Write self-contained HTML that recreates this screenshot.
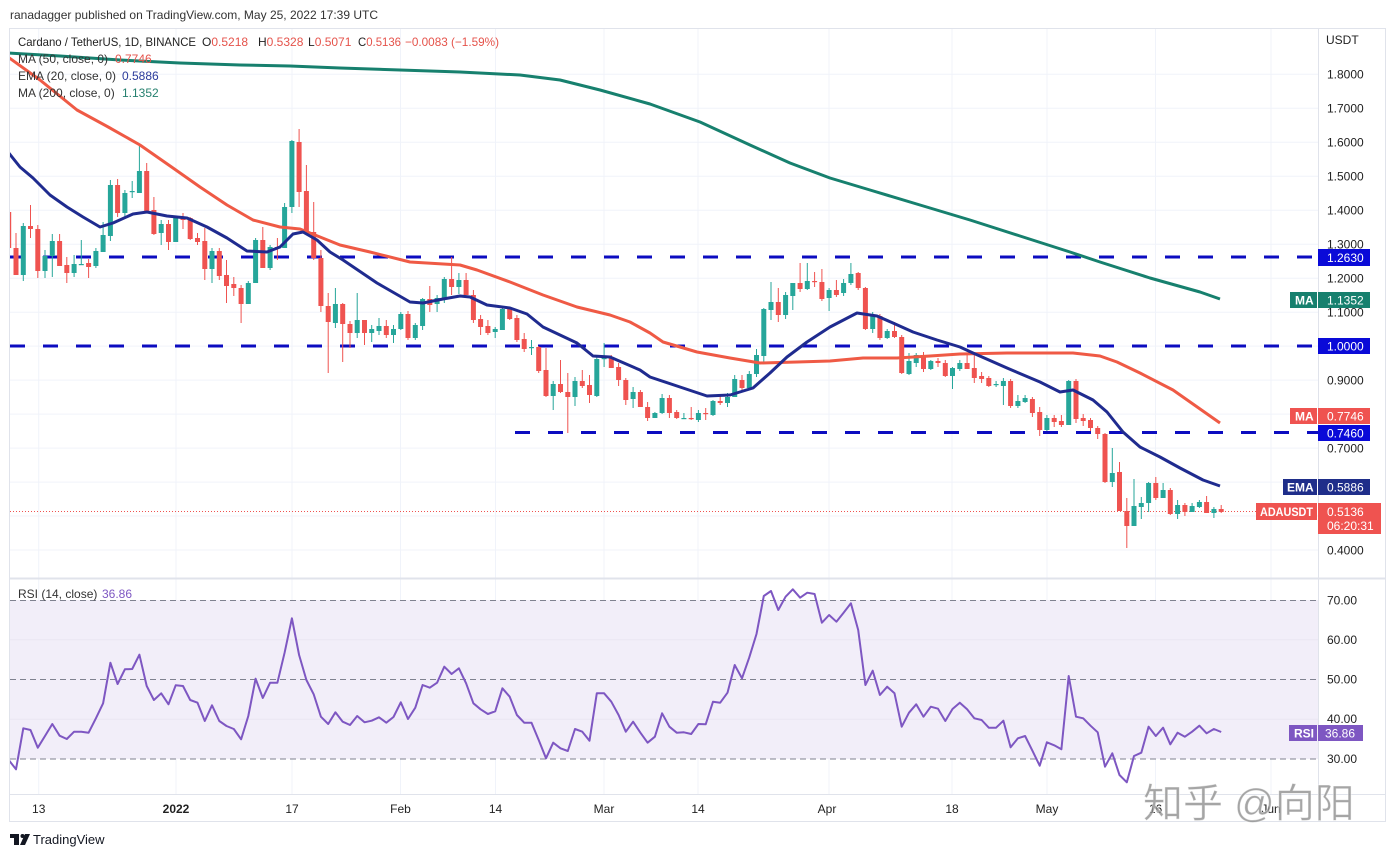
<!DOCTYPE html>
<html>
<head>
<meta charset="utf-8">
<style>
  html,body{margin:0;padding:0;background:#fff;}
  body{width:1396px;height:857px;overflow:hidden;font-family:"Liberation Sans",sans-serif;}
  svg text{font-family:"Liberation Sans",sans-serif;}
</style>
</head>
<body>
<svg id="chart" width="1396" height="857" viewBox="0 0 1396 857" xmlns="http://www.w3.org/2000/svg">
  <defs>
    <clipPath id="pc"><rect x="10" y="29" width="1308" height="549"/></clipPath>
    <clipPath id="rc"><rect x="10" y="579" width="1308" height="215"/></clipPath>
  </defs>
  <rect x="0" y="0" width="1396" height="857" fill="#fff"/>

  <!-- header -->
  <text x="10" y="19" font-size="12" fill="#333">ranadagger published on TradingView.com, May 25, 2022 17:39 UTC</text>

  <!-- frame -->
  <rect x="9.5" y="28.5" width="1376" height="793" fill="none" stroke="#e0e3eb" stroke-width="1"/>

  <!-- grid -->
  <g stroke="#f0f3fa" stroke-width="1">
    <line x1="10" x2="1318" y1="74.3" y2="74.3"/>
    <line x1="10" x2="1318" y1="108.3" y2="108.3"/>
    <line x1="10" x2="1318" y1="142.3" y2="142.3"/>
    <line x1="10" x2="1318" y1="176.2" y2="176.2"/>
    <line x1="10" x2="1318" y1="210.2" y2="210.2"/>
    <line x1="10" x2="1318" y1="244.2" y2="244.2"/>
    <line x1="10" x2="1318" y1="278.2" y2="278.2"/>
    <line x1="10" x2="1318" y1="312.2" y2="312.2"/>
    <line x1="10" x2="1318" y1="346.1" y2="346.1"/>
    <line x1="10" x2="1318" y1="380.1" y2="380.1"/>
    <line x1="10" x2="1318" y1="414.1" y2="414.1"/>
    <line x1="10" x2="1318" y1="448.1" y2="448.1"/>
    <line x1="10" x2="1318" y1="482.1" y2="482.1"/>
    <line x1="10" x2="1318" y1="516" y2="516"/>
    <line x1="10" x2="1318" y1="550" y2="550"/>
    <line x1="38.7" x2="38.7" y1="29" y2="794"/>
    <line x1="176" x2="176" y1="29" y2="794"/>
    <line x1="292" x2="292" y1="29" y2="794"/>
    <line x1="400.5" x2="400.5" y1="29" y2="794"/>
    <line x1="495.5" x2="495.5" y1="29" y2="794"/>
    <line x1="604" x2="604" y1="29" y2="794"/>
    <line x1="698" x2="698" y1="29" y2="794"/>
    <line x1="829" x2="829" y1="29" y2="794"/>
    <line x1="952" x2="952" y1="29" y2="794"/>
    <line x1="1047" x2="1047" y1="29" y2="794"/>
    <line x1="1155.5" x2="1155.5" y1="29" y2="794"/>
    <line x1="1271" x2="1271" y1="29" y2="794"/>
  </g>

  <!-- RSI pane background & levels -->
  <rect x="10" y="600" width="1308" height="159" fill="#f2eef9"/>
  <g stroke="#eae6f2" stroke-width="1">
    <line x1="10" x2="1318" y1="639.75" y2="639.75"/>
    <line x1="10" x2="1318" y1="719.25" y2="719.25"/>
  </g>
  <g stroke="#808290" stroke-width="1" stroke-dasharray="6 4">
    <line x1="10" x2="1318" y1="600.5" y2="600.5"/>
    <line x1="10" x2="1318" y1="679.5" y2="679.5"/>
    <line x1="10" x2="1318" y1="759" y2="759"/>
  </g>

  <!-- separators -->
  <line x1="10" x2="1386" y1="578.5" y2="578.5" stroke="#e0e3eb" stroke-width="2"/>
  <line x1="10" x2="1386" y1="794.5" y2="794.5" stroke="#e0e3eb" stroke-width="1"/>
  <line x1="1318.5" x2="1318.5" y1="29" y2="821" stroke="#e0e3eb" stroke-width="1"/>

  <!-- price pane content -->
  <g clip-path="url(#pc)">
    <g stroke="#0c0cc0" stroke-width="3" stroke-dasharray="15 18" fill="none">
      <line x1="10" x2="1318" y1="257" y2="257"/>
      <line x1="10" x2="1318" y1="346" y2="346"/>
      <line x1="515" x2="1318" y1="432.5" y2="432.5"/>
    </g>
    <line x1="10" x2="1318" y1="511.5" y2="511.5" stroke="#ef5350" stroke-width="1" stroke-dasharray="1 2"/>

    <g id="candles"></g>

    <polyline fill="none" stroke="#17806e" stroke-width="3" stroke-linejoin="round" points="8,53 60,56 120,60 180,63 240,65 290,66 340,68 400,70 460,72 520,75 560,80 600,90 650,104 700,122 750,145 790,163 830,178 870,190 920,205 970,220 1020,236 1070,252 1100,262 1150,278 1200,292 1220,299"/>
    <polyline fill="none" stroke="#ef5a45" stroke-width="3" stroke-linejoin="round" points="8,57 40,80 77,110 110,128 140,145 173,168 200,187 227,205 253,220 280,227 300,229 320,237 340,245 370,252 410,262 460,265 477,270 510,282 543,295 577,307 610,315 630,322 650,333 663,342 697,352 730,358 760,363 797,362 830,361 863,358 897,358 930,356 960,354 1007,353 1073,353 1100,356 1117,362 1140,373 1173,390 1220,423"/>
    <polyline fill="none" stroke="#1f2b8f" stroke-width="3" stroke-linejoin="round" points="8,152 20,167 33,178 50,195 67,207 83,217 100,227 113,223 133,214 147,212 167,216 187,218 207,227 227,238 247,251 267,252 280,247 293,234 303,232 317,240 330,252 343,260 377,283 410,302 423,303 443,299 460,296 470,297 487,305 510,308 527,314 543,327 577,343 593,356 610,357 640,370 650,377 680,387 707,396 730,395 753,388 770,373 787,357 807,342 830,327 857,313 877,316 893,323 913,332 937,340 960,347 973,353 1007,368 1040,382 1060,392 1073,390 1093,400 1107,412 1123,432 1140,447 1160,457 1180,468 1203,480 1220,486"/>
  </g>

  <g clip-path="url(#rc)">
    <polyline id="rsi" fill="none" stroke="#7e57c2" stroke-width="2" stroke-linejoin="round" points=""/>
  </g>

  <!-- legends -->
  <text x="18" y="46" font-size="12" fill="#222" textLength="178" lengthAdjust="spacingAndGlyphs">Cardano / TetherUS, 1D, BINANCE</text>
  <text y="46" font-size="12">
    <tspan x="202" fill="#222">O</tspan><tspan fill="#e5534b">0.5218</tspan>
    <tspan x="258" fill="#222">H</tspan><tspan fill="#e5534b">0.5328</tspan>
    <tspan x="308" fill="#222">L</tspan><tspan fill="#e5534b">0.5071</tspan>
  </text>
  <text x="358" y="46" font-size="12" textLength="43" lengthAdjust="spacingAndGlyphs"><tspan fill="#222">C</tspan><tspan fill="#e5534b">0.5136</tspan></text>
  <text x="405" y="46" font-size="12" fill="#e5534b" textLength="94" lengthAdjust="spacingAndGlyphs">−0.0083 (−1.59%)</text>
  <text y="63" font-size="12"><tspan x="18" fill="#333">MA (50, close, 0)</tspan><tspan x="115" fill="#e5534b">0.7746</tspan></text>
  <text y="80" font-size="12"><tspan x="18" fill="#333">EMA (20, close, 0)</tspan><tspan x="122" fill="#2b3a9b">0.5886</tspan></text>
  <text y="97" font-size="12"><tspan x="18" fill="#333">MA (200, close, 0)</tspan><tspan x="122" fill="#26806f">1.1352</tspan></text>
  <text y="598" font-size="12"><tspan x="18" fill="#333">RSI (14, close)</tspan><tspan x="102" fill="#7e57c2">36.86</tspan></text>

  <!-- price axis labels -->
  <g font-size="12" fill="#222">
    <text x="1326" y="44">USDT</text>
    <text x="1327" y="78.5">1.8000</text>
    <text x="1327" y="112.5">1.7000</text>
    <text x="1327" y="146.5">1.6000</text>
    <text x="1327" y="180.5">1.5000</text>
    <text x="1327" y="214.5">1.4000</text>
    <text x="1327" y="248.5">1.3000</text>
    <text x="1327" y="282.5">1.2000</text>
    <text x="1327" y="316.5">1.1000</text>
    <text x="1327" y="384.5">0.9000</text>
    <text x="1327" y="452.5">0.7000</text>
    <text x="1327" y="554.5">0.4000</text>
    <text x="1327" y="604.5">70.00</text>
    <text x="1327" y="644">60.00</text>
    <text x="1327" y="683.5">50.00</text>
    <text x="1327" y="723">40.00</text>
    <text x="1327" y="763">30.00</text>
  </g>

  <!-- axis boxes -->
  <g font-size="12" fill="#fff">
    <rect x="1318" y="249" width="52" height="17" fill="#0a0ad8"/>
    <text x="1327" y="262">1.2630</text>

    <rect x="1290" y="292" width="27" height="16" fill="#17806e"/>
    <text x="1295" y="304.5" font-weight="bold">MA</text>
    <rect x="1318" y="292" width="52" height="16" fill="#17806e"/>
    <text x="1327" y="304.5">1.1352</text>

    <rect x="1318" y="338" width="52" height="16" fill="#0a0ad8"/>
    <text x="1327" y="350.5">1.0000</text>

    <rect x="1290" y="408" width="27" height="16" fill="#ef5350"/>
    <text x="1295" y="420.5" font-weight="bold">MA</text>
    <rect x="1318" y="408" width="52" height="16" fill="#ef5350"/>
    <text x="1327" y="420.5">0.7746</text>

    <rect x="1318" y="425" width="52" height="16" fill="#0a0ad8"/>
    <text x="1327" y="437.5">0.7460</text>

    <rect x="1283" y="479" width="34" height="16" fill="#1f2e8a"/>
    <text x="1287" y="491.5" font-weight="bold">EMA</text>
    <rect x="1318" y="479" width="52" height="16" fill="#1f2e8a"/>
    <text x="1327" y="491.5">0.5886</text>

    <rect x="1256" y="503" width="61" height="17" fill="#ef5350"/>
    <text x="1260" y="516" font-weight="bold" textLength="53" lengthAdjust="spacingAndGlyphs">ADAUSDT</text>
    <rect x="1318" y="503" width="63" height="31" fill="#ef5350"/>
    <text x="1327" y="516">0.5136</text>
    <text x="1327" y="530">06:20:31</text>

    <rect x="1289" y="725" width="28" height="16" fill="#7e57c2"/>
    <text x="1294" y="737.5" font-weight="bold">RSI</text>
    <rect x="1318" y="725" width="45" height="16" fill="#7e57c2"/>
    <text x="1325" y="737.5">36.86</text>
  </g>

  <!-- time axis labels -->
  <g font-size="12" fill="#222" text-anchor="middle">
    <text x="38.7" y="813">13</text>
    <text x="176" y="813" font-weight="bold">2022</text>
    <text x="292" y="813">17</text>
    <text x="400.5" y="813">Feb</text>
    <text x="495.5" y="813">14</text>
    <text x="604" y="813">Mar</text>
    <text x="698" y="813">14</text>
    <text x="827" y="813">Apr</text>
    <text x="952" y="813">18</text>
    <text x="1047" y="813">May</text>
    <text x="1155.5" y="813">16</text>
    <text x="1271" y="813">Jun</text>
  </g>

  <!-- watermark -->
  <text x="1143" y="817" font-size="40" fill="#8e8e8e" fill-opacity="0.8" stroke="#ffffff" stroke-width="0.8" stroke-opacity="0.6" style="font-family:'Liberation Sans','Noto Sans CJK SC',sans-serif;">知乎 @向阳</text>

  <!-- TradingView logo -->
  <g fill="#131722">
    <rect x="10" y="834" width="9" height="4"/>
    <rect x="14" y="834" width="5" height="11"/>
    <circle cx="22.5" cy="836" r="2"/>
    <polygon points="25,834 30,834 25,845 20,845"/>
  </g>
  <text x="33" y="844" font-size="13" fill="#131722">TradingView</text>
</svg>

<script>
(function(){
  var C=[
  [212,248,205,250,0],
  [248,275,233,275,0],[226,275,223,281,1],[226,229,205,238,0],[229,271,225,278,0],[256,271,250,278,1],
  [241,256,234,277,1],[241,266,234,266,0],[265,273,257,283,0],[264,273,255,277,1],[264,265,240,265,1],
  [263,267,259,278,0],[251,266,248,268,1],[235,252,222,252,1],[185,236,180,241,1],[185,213,179,217,0],
  [193,213,190,217,1],[191,192,181,198,1],[171,193,145,193,1],[171,211,163,212,0],[210,234,197,235,0],
  [224,233,220,245,1],[224,242,220,250,0],[217,242,216,242,1],[217,220,213,229,0],[218,239,217,240,0],
  [238,242,233,245,0],[241,269,228,280,0],[251,269,248,283,1],[251,276,248,280,0],[275,286,260,303,0],
  [284,288,277,296,0],[288,304,285,323,0],[283,304,281,304,1],[240,283,238,283,1],[240,268,227,268,0],
  [247,268,245,270,1],[247,248,238,260,0],[207,248,203,248,1],[141,207,140,213,1],[142,192,129,207,0],
  [191,232,165,232,0],[232,258,202,260,0],[258,306,250,312,0],[306,322,293,373,0],[304,323,288,328,1],
  [304,324,303,362,0],[324,333,321,348,0],[320,333,293,338,1],[320,333,320,345,0],[329,333,325,342,1],
  [326,331,318,335,1],[326,335,320,338,0],[329,335,325,343,1],[314,329,312,330,1],[314,338,311,340,0],
  [325,338,323,340,1],[299,326,298,330,1],[299,305,286,312,0],[298,304,295,312,1],[279,298,277,303,1],
  [279,287,257,295,0],[280,287,273,294,1],[280,295,273,295,0],[295,320,290,323,0],[319,327,315,335,0],
  [326,333,320,335,0],[329,332,327,338,1],[309,330,307,330,1],[308,319,307,320,0],[318,340,315,342,0],
  [339,349,333,352,0],[347,348,340,355,1],[347,371,346,373,0],[370,396,348,397,0],[384,396,381,410,1],
  [384,392,360,393,0],[392,397,373,433,0],[381,397,377,406,1],[381,386,370,388,0],[385,395,375,403,0],
  [359,396,355,397,1],[358,359,343,367,1],[357,368,355,368,0],[367,380,363,386,0],[380,400,378,405,0],
  [392,399,387,408,1],[392,407,390,407,0],[407,418,402,421,0],[413,418,412,418,1],[398,413,394,414,1],
  [398,413,395,418,0],[412,418,410,419,0],[418,419,413,419,1],[418,419,407,420,0],[413,420,410,422,1],
  [413,414,408,420,0],[401,415,400,416,1],[401,403,395,405,0],[397,403,393,407,1],[379,397,375,397,1],
  [380,388,375,390,0],[374,388,371,390,1],[355,374,349,377,1],[309,356,308,362,1],[302,310,282,320,1],
  [302,315,288,322,0],[295,315,292,319,1],[283,296,283,310,1],[283,289,263,292,0],[281,289,263,290,1],
  [281,282,272,287,0],[282,299,269,301,0],[290,298,288,311,1],[290,295,280,297,0],[283,293,279,296,1],
  [274,283,263,285,1],[273,288,272,290,0],[288,329,287,330,0],[316,329,312,333,1],[316,338,314,340,0],
  [331,338,329,339,1],[331,337,322,338,0],[337,373,335,374,0],[361,374,353,375,1],[355,363,353,367,1],
  [355,369,352,372,0],[361,369,360,370,1],[361,363,358,367,0],[363,376,360,377,0],[368,376,367,389,1],
  [363,369,360,371,1],[363,369,355,369,0],[368,378,355,383,0],[376,379,372,383,0],[378,386,376,387,0],
  [384,385,381,387,1],[381,386,378,405,1],[381,406,379,408,0],[401,406,395,408,1],[398,402,395,403,1],
  [399,413,397,417,0],[412,430,407,436,0],[418,430,415,431,1],[418,422,415,427,0],[421,425,415,427,0],
  [381,425,380,425,1],[381,419,379,423,0],[418,421,414,426,0],[420,428,418,431,0],[428,434,426,439,0],
  [434,482,433,483,0],[473,482,448,487,1],[472,511,462,511,0],[511,526,498,548,0],[506,526,479,526,1],
  [503,507,497,519,1],[483,503,482,512,1],[483,498,477,500,0],[490,498,483,498,1],[490,514,488,515,0],
  [505,514,500,519,1],[505,512,503,516,0],[506,512,503,512,1],[502,507,500,508,1],[502,513,496,513,0],
  [509,513,507,518,1],[509,512,505,513,0]
  ];
  var s='';
  for(var k=0;k<C.length;k++){
    var c=C[k],i=k-1,x=16+7.26*i,col=c[4]?'#26a69a':'#ef5350';
    s+='<line x1="'+x.toFixed(1)+'" x2="'+x.toFixed(1)+'" y1="'+c[2]+'" y2="'+c[3]+'" stroke="'+col+'" stroke-width="1"/>';
    var h=Math.max(1.2,c[1]-c[0]);
    s+='<rect x="'+(x-2.5).toFixed(1)+'" y="'+c[0]+'" width="5" height="'+h+'" fill="'+col+'"/>';
  }
  document.getElementById('candles').innerHTML=s;

  var R=[540,568,445,450,503,468,432,467,477,455,455,458,415,370,248,312,268,267,224,318,
  360,340,373,316,318,360,368,423,376,423,438,447,478,408,296,354,308,308,218,115,
  225,300,343,410,432,397,425,435,408,427,422,412,428,411,367,417,383,315,323,308,
  260,282,265,310,370,388,402,394,325,350,405,428,428,480,535,488,505,513,447,455,
  482,340,340,365,
  405,455,425,458,488,470,400,440,458,457,
  462,432,433,365,368,338,255,295,232,162,
  48,33,90,50,28,53,38,42,128,105,
  125,98,70,150,315,272,345,320,340,440,
  398,373,410,380,386,423,387,368,388,415,
  420,443,443,422,502,475,468,512,557,487,
  496,508,288,410,415,437,457,560,520,585,
  607,528,518,440,468,443,493,458,470,455,
  437,460,447,456];
  var p=[];
  for(var j=0;j<R.length;j++){
    var xi=16+7.26*(j-1);
    p.push(xi.toFixed(1)+','+(580+R[j]/3).toFixed(1));
  }
  document.getElementById('rsi').setAttribute('points',p.join(' '));
})();
</script>
</body>
</html>
